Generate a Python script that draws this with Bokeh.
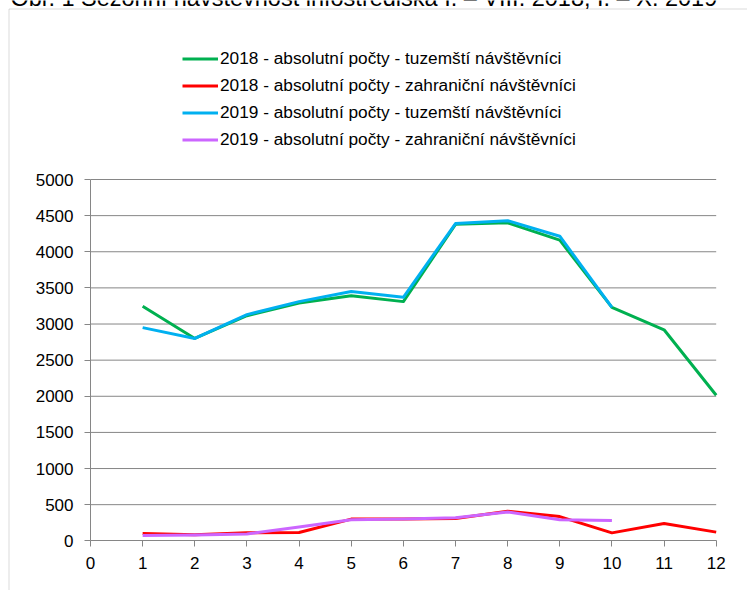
from bokeh.plotting import figure
from bokeh.models import (Legend, LegendItem, FixedTicker, Range1d, LinearAxis,
                          BoxAnnotation, Label)
from bokeh.embed import file_html
from bokeh.resources import INLINE

# ---- data ----
months_2018 = [1, 2, 3, 4, 5, 6, 7, 8, 9, 10, 11, 12]
months_2019 = [1, 2, 3, 4, 5, 6, 7, 8, 9, 10]
dom_2018 = [3245, 2800, 3115, 3290, 3390, 3310, 4380, 4400, 4160, 3230, 2920, 2015]
for_2018 = [100, 85, 110, 115, 300, 300, 310, 410, 335, 110, 240, 120]
dom_2019 = [2950, 2800, 3130, 3310, 3450, 3370, 4390, 4430, 4215, 3230]
for_2019 = [75, 80, 95, 190, 290, 300, 320, 400, 290, 280]

title_text = "Obr. 1 Sezónní návštěvnost infostrediska I. – VIII. 2018, I. – X. 2019"
labels = [
    "2018 - absolutní počty - tuzemští návštěvníci",
    "2018 - absolutní počty - zahraniční návštěvníci",
    "2019 - absolutní počty - tuzemští návštěvníci",
    "2019 - absolutní počty - zahraniční návštěvníci",
]
x_ticks = [0, 1, 2, 3, 4, 5, 6, 7, 8, 9, 10, 11, 12]
y_ticks = [0, 500, 1000, 1500, 2000, 2500, 3000, 3500, 4000, 4500, 5000]

# ---- layout constants (pixels) ----
W, H = 747, 590
X_MIN, X_MAX = 0, 12
Y_MIN, Y_MAX = 0, 5000
AX_LEFT_PX, AX_RIGHT_PX = 90.0, 715.7     # where x=0 and x=12 sit
AX_TOP_PX, AX_BOTTOM_PX = 179.0, 540.3    # where y=5000 and y=0 sit
TITLE_SIZE = 23.5
TITLE_BASELINE_PX = 5.5

sx = (AX_RIGHT_PX - AX_LEFT_PX) / (X_MAX - X_MIN)
sy = (AX_BOTTOM_PX - AX_TOP_PX) / (Y_MAX - Y_MIN)
x_start = X_MIN - AX_LEFT_PX / sx
x_end = X_MAX + (W - AX_RIGHT_PX) / sx
y_end = Y_MAX + AX_TOP_PX / sy
y_start = Y_MIN - (H - AX_BOTTOM_PX) / sy


def px_x(px):
    return x_start + px / sx


def px_y(py):
    return y_end - py / sy


FONT = "Liberation Sans"
GRAY = "#868686"

p = figure(width=W, height=H, output_backend="svg", toolbar_location=None,
           x_range=Range1d(x_start, x_end), y_range=Range1d(y_start, y_end),
           x_axis_location=None, y_axis_location=None,
           min_border=0)
p.outline_line_color = None
p.background_fill_color = "white"
p.border_fill_color = "white"
p.grid.visible = False

# horizontal grid lines limited to the plotted x span
grid_y = y_ticks[1:]
p.segment(x0=[X_MIN] * len(grid_y), x1=[X_MAX] * len(grid_y), y0=grid_y, y1=grid_y,
          line_color=GRAY, line_width=1)

xaxis = LinearAxis(fixed_location=0, bounds=(X_MIN, X_MAX), ticker=FixedTicker(ticks=x_ticks))
yaxis = LinearAxis(fixed_location=0, bounds=(Y_MIN, Y_MAX), ticker=FixedTicker(ticks=y_ticks))
for ax in (xaxis, yaxis):
    ax.axis_line_color = GRAY
    ax.major_tick_line_color = GRAY
    ax.major_tick_in = 0
    ax.major_tick_out = 6
    ax.minor_tick_line_color = None
    ax.major_label_text_font = FONT
    ax.major_label_text_font_size = "17px"
    ax.major_label_text_color = "black"
xaxis.major_label_standoff = 10
yaxis.major_label_standoff = 11
p.add_layout(xaxis, "below")
p.add_layout(yaxis, "left")

colors = ["#00B050", "#FF0000", "#00B0F0", "#CC66FF"]
series = [(months_2018, dom_2018), (months_2018, for_2018),
          (months_2019, dom_2019), (months_2019, for_2019)]
renderers = []
for (xs, ys), c in zip(series, colors):
    r = p.line(xs, ys, line_color=c, line_width=3, line_join="round")
    renderers.append(r)

legend = Legend(items=[LegendItem(label=l, renderers=[r]) for l, r in zip(labels, renderers)],
                location=(182, int(H - 153)), orientation="vertical",
                glyph_width=36, glyph_height=27, label_standoff=2, spacing=0,
                padding=0, margin=0, border_line_color=None, background_fill_alpha=0,
                label_text_font=FONT, label_text_font_size="17.25px", label_text_color="black")
p.add_layout(legend)

# chart-area frame (left and top edges visible)
p.add_layout(BoxAnnotation(left=px_x(8.5), top=px_y(8.5), right=x_end + 5, bottom=y_start - 2000,
                           fill_alpha=0, fill_color=None, line_color=GRAY, line_width=1))

# caption above the chart area (cut off by the page top in the reference)
title_center_px = TITLE_BASELINE_PX - 0.3465 * TITLE_SIZE
p.add_layout(Label(x=px_x(10), y=px_y(title_center_px), text=title_text, text_font=FONT,
                   text_font_size=f"{TITLE_SIZE}px", text_color="black",
                   text_baseline="middle", text_align="left"))

open("out.html", "w").write(file_html(p, INLINE))
